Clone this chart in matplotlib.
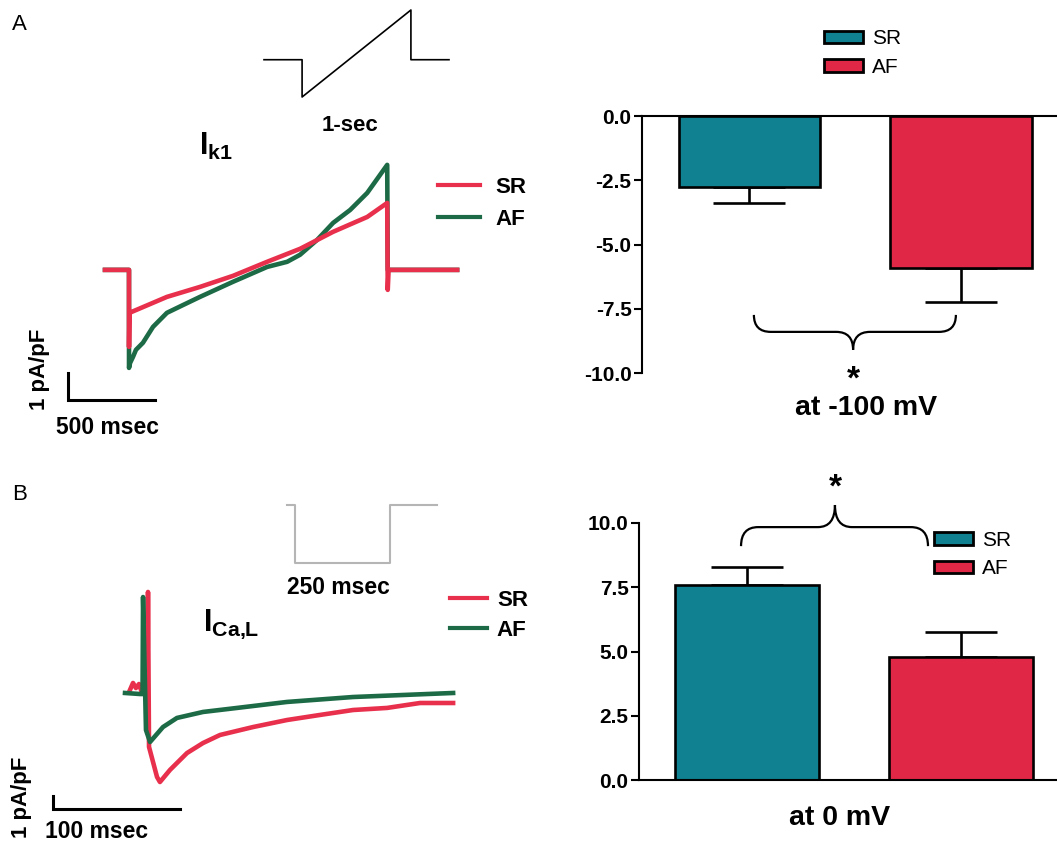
import matplotlib
matplotlib.use('Agg')
import matplotlib.pyplot as plt
import matplotlib.ticker as ticker
from matplotlib.patches import Patch, PathPatch
from matplotlib.lines import Line2D
from matplotlib.path import Path

plt.rcParams['font.family'] = 'Liberation Sans'
plt.rcParams['axes.unicode_minus'] = False
plt.rcParams['mathtext.fontset'] = 'custom'
plt.rcParams['mathtext.rm'] = 'Liberation Sans:bold'
plt.rcParams['mathtext.it'] = 'Liberation Sans:bold'
plt.rcParams['mathtext.bf'] = 'Liberation Sans:bold'

# ---- data ----
groups = ['SR', 'AF']
ik1_mean = [-2.75, -5.9]      # pA/pF at -100 mV
ik1_sem = [0.65, 1.35]
ica_mean = [7.6, 4.8]         # pA/pF at 0 mV
ica_sem = [0.7, 0.95]

# IK1 traces (time ms, current pA/pF)
t_ik1_sr = [-138, 0, 0, 3, 218, 408, 598, 794, 983, 1173, 1369, 1484, 1487, 1492, 1886]
i_ik1_sr = [0, 0, -2.85, -1.59, -1.0, -0.63, -0.22, 0.30, 0.78, 1.41, 1.96, 2.48, -0.74, 0, 0]
t_ik1_af = [-138, 0, 0, 6, 23, 40, 80, 138, 218, 311, 408, 598, 794, 909, 983, 1081, 1173,
            1271, 1369, 1484, 1487, 1492, 1886]
i_ik1_af = [0, 0, -3.63, -3.45, -3.22, -2.96, -2.70, -2.11, -1.59, -1.30, -1.0, -0.44, 0.11,
            0.30, 0.56, 1.11, 1.74, 2.22, 2.85, 3.89, 0, 0, 0]

# ICa,L traces (time ms, current pA/pF)
t_ica_sr = [-13.4, -11, -8.7, -6.3, -3.9, 0.4, 0.8, 1.6, 7.9, 10.2, 18.1, 31.5, 44.1, 57.5,
            83.5, 110.2, 136.2, 162.2, 189, 215, 241]
i_ica_sr = [0.23, 0.77, 0.38, 0.69, 0, 0.3, 7.77, -4.15, -6.46, -6.85, -5.92, -4.62, -3.85,
            -3.23, -2.62, -2.08, -1.69, -1.31, -1.15, -0.77, -0.77]
t_ica_af = [-17.3, -5.5, -3.5, -3.1, -0.8, 2.4, 12.6, 23.6, 44.1, 70.9, 110.2, 162.2, 241]
i_ica_af = [0, -0.08, -0.08, 7.38, -2.85, -3.77, -2.62, -1.92, -1.46, -1.15, -0.69, -0.31, 0]

# voltage protocols (ms, mV)
prot_a_t = [0, 350, 350, 1350, 1350, 1700]
prot_a_v = [-40, -40, -100, 40, -40, -40]
prot_b_t = [0, 20, 20, 270, 270, 394]
prot_b_v = [-40, -40, -80, -80, -40, -40]

bar_colors = ['#0f8190', '#e02745']
sr_line = '#e8304d'
af_line = '#1c6b46'

W, H = 1057, 844


def box(x0, y0, x1, y1):
    return [x0 / W, 1 - y1 / H, (x1 - x0) / W, (y1 - y0) / H]


def fp(x, y):
    return x / W, 1 - y / H


def brace(ax, x0, x1, xt, y_end, y_mid, y_tip, r):
    verts = [(x0, y_end), (x0, y_mid), (x0 + r, y_mid),
             (xt - r, y_mid), (xt, y_mid), (xt, y_tip),
             (xt, y_mid), (xt + r, y_mid),
             (x1 - r, y_mid), (x1, y_mid), (x1, y_end)]
    codes = [Path.MOVETO, Path.CURVE3, Path.CURVE3, Path.LINETO,
             Path.CURVE3, Path.CURVE3, Path.CURVE3, Path.CURVE3,
             Path.LINETO, Path.CURVE3, Path.CURVE3]
    ax.add_patch(PathPatch(Path(verts, codes), fill=False, lw=1.6,
                           edgecolor='black', clip_on=False))


fig = plt.figure(figsize=(W / 100, H / 100), dpi=100)


def bar_panel(ax, means, sems, width, xlim, ylim):
    x = list(range(len(groups)))
    ax.bar(x, means, width, color=bar_colors, edgecolor='black', linewidth=1.9, zorder=2)
    lower = [s if m < 0 else 0 for m, s in zip(means, sems)]
    upper = [s if m > 0 else 0 for m, s in zip(means, sems)]
    ax.errorbar(x, means, yerr=[lower, upper], fmt='none', ecolor='black',
                elinewidth=1.9, capsize=26, capthick=1.9, zorder=1)
    ax.set_xlim(*xlim)
    ax.set_ylim(*ylim)
    ax.set_xticks([])
    ax.yaxis.set_major_locator(ticker.MultipleLocator(2.5))
    ax.yaxis.set_major_formatter(ticker.FormatStrFormatter('%.1f'))
    ax.tick_params(axis='y', length=6, width=1.5, pad=1.5, labelsize=15)
    for lab in ax.get_yticklabels():
        lab.set_fontweight('bold')
    ax.spines['right'].set_visible(False)
    for s in ax.spines.values():
        s.set_linewidth(1.5)
    ax.patch.set_alpha(0)


hb = [Patch(facecolor=c, edgecolor='black', linewidth=2) for c in bar_colors]
bar_leg = dict(loc='upper left', frameon=False, fontsize=15, handlelength=1.87,
               handleheight=0.53, handletextpad=0.43, labelspacing=0.45,
               borderpad=0, borderaxespad=0)

# ---- A: IK1 bar chart ----
axb1 = fig.add_axes(box(642, 116, 1057, 373))
bar_panel(axb1, ik1_mean, ik1_sem, 0.667, (-0.508, 1.454), (-10, 0))
axb1.spines['bottom'].set_visible(False)
brace(axb1, 0.021, 0.976, 0.49, -7.74, -8.4, -9.1, 0.08)
fig.legend(hb, groups, bbox_to_anchor=fp(824, 29.5), **bar_leg)
fig.text(*fp(853, 380), '*', fontsize=24, fontweight='bold', ha='center', va='center')
fig.text(*fp(866, 408), 'at -100 mV', fontsize=20.5, fontweight='bold', ha='center', va='center')

# ---- B: ICa,L bar chart ----
axb2 = fig.add_axes(box(639, 523, 1057, 780))
bar_panel(axb2, ica_mean, ica_sem, 0.673, (-0.505, 1.449), (0, 10))
axb2.spines['top'].set_visible(False)
brace(axb2, -0.028, 0.846, 0.411, 9.1, 9.84, 10.7, 0.08)
fig.legend(hb, groups, bbox_to_anchor=fp(934, 531), **bar_leg)
fig.text(*fp(835, 488), '*', fontsize=24, fontweight='bold', ha='center', va='center')
fig.text(*fp(840, 818), 'at 0 mV', fontsize=20.5, fontweight='bold', ha='center', va='center')

# ---- A: IK1 traces ----
axa = fig.add_axes(box(60, 150, 470, 440))
axa.plot(t_ik1_af, i_ik1_af, color=af_line, lw=3.3, solid_joinstyle='round')
axa.plot(t_ik1_sr, i_ik1_sr, color=sr_line, lw=3.3, solid_joinstyle='round')
axa.plot([-350.6, -350.6, 149.4], [-3.81, -4.81, -4.81], color='black', lw=2.2,
         solid_joinstyle='miter')
axa.set_xlim(-396.6, 1959.8)
axa.set_ylim(-6.30, 4.44)
axa.axis('off')
hl = [Line2D([], [], color=sr_line, lw=3), Line2D([], [], color=af_line, lw=3)]
axa.legend(hl, groups, loc='upper left', bbox_to_anchor=fp(438, 177), bbox_transform=fig.transFigure,
           frameon=False, prop={'size': 16, 'weight': 'bold'}, handlelength=1.9,
           handletextpad=0.68, labelspacing=0.48, borderpad=0, borderaxespad=0)

axpa = fig.add_axes(box(264, 10, 449, 97))
axpa.plot(prot_a_t, prot_a_v, color='black', lw=1.2, clip_on=False)
axpa.set_xlim(0, 1700)
axpa.set_ylim(-100, 40)
axpa.axis('off')

fig.text(*fp(12, 25), 'A', fontsize=16, ha='left', va='center')
fig.text(*fp(350, 126), '1-sec', fontsize=16, fontweight='bold', ha='center', va='center')
fig.text(*fp(199, 155), r'$\mathrm{I_{k1}}$', fontsize=22, ha='left', va='baseline')
fig.text(*fp(40, 369), '1 pA/pF', fontsize=16, fontweight='bold', rotation=90, ha='center', va='center')
fig.text(*fp(108, 427), '500 msec', fontsize=16.5, fontweight='bold', ha='center', va='center')

# ---- B: ICa,L traces ----
axc = fig.add_axes(box(30, 570, 470, 830))
axc.plot(t_ica_sr, i_ica_sr, color=sr_line, lw=3.3, solid_joinstyle='round')
axc.plot(t_ica_af, i_ica_af, color=af_line, lw=3.3, solid_joinstyle='round')
axc.plot([-74, -74, 26], [-7.92, -8.92, -8.92], color='black', lw=2.2, solid_joinstyle='miter')
axc.set_xlim(-92.1, 254.3)
axc.set_ylim(-10.54, 9.46)
axc.axis('off')
axc.legend(hl, groups, loc='upper left', bbox_to_anchor=fp(450, 590), bbox_transform=fig.transFigure,
           frameon=False, prop={'size': 16, 'weight': 'bold'}, handlelength=1.66,
           handletextpad=0.45, labelspacing=0.39, borderpad=0, borderaxespad=0)

axpb = fig.add_axes(box(287, 505, 437, 563))
axpb.plot(prot_b_t, prot_b_v, color='#b5b5b5', lw=1.5, clip_on=False)
axpb.set_xlim(0, 394)
axpb.set_ylim(-80, -40)
axpb.axis('off')

fig.text(*fp(12, 495), 'B', fontsize=16, ha='left', va='center')
fig.text(*fp(338, 587), '250 msec', fontsize=16.5, fontweight='bold', ha='center', va='center')
fig.text(*fp(203, 631), r'$\mathrm{I_{Ca{,}L}}$', fontsize=22, ha='left', va='baseline')
fig.text(*fp(22, 797), '1 pA/pF', fontsize=16, fontweight='bold', rotation=90, ha='center', va='center')
fig.text(*fp(97, 831), '100 msec', fontsize=16.5, fontweight='bold', ha='center', va='center')

fig.savefig('out.png', dpi=100)
